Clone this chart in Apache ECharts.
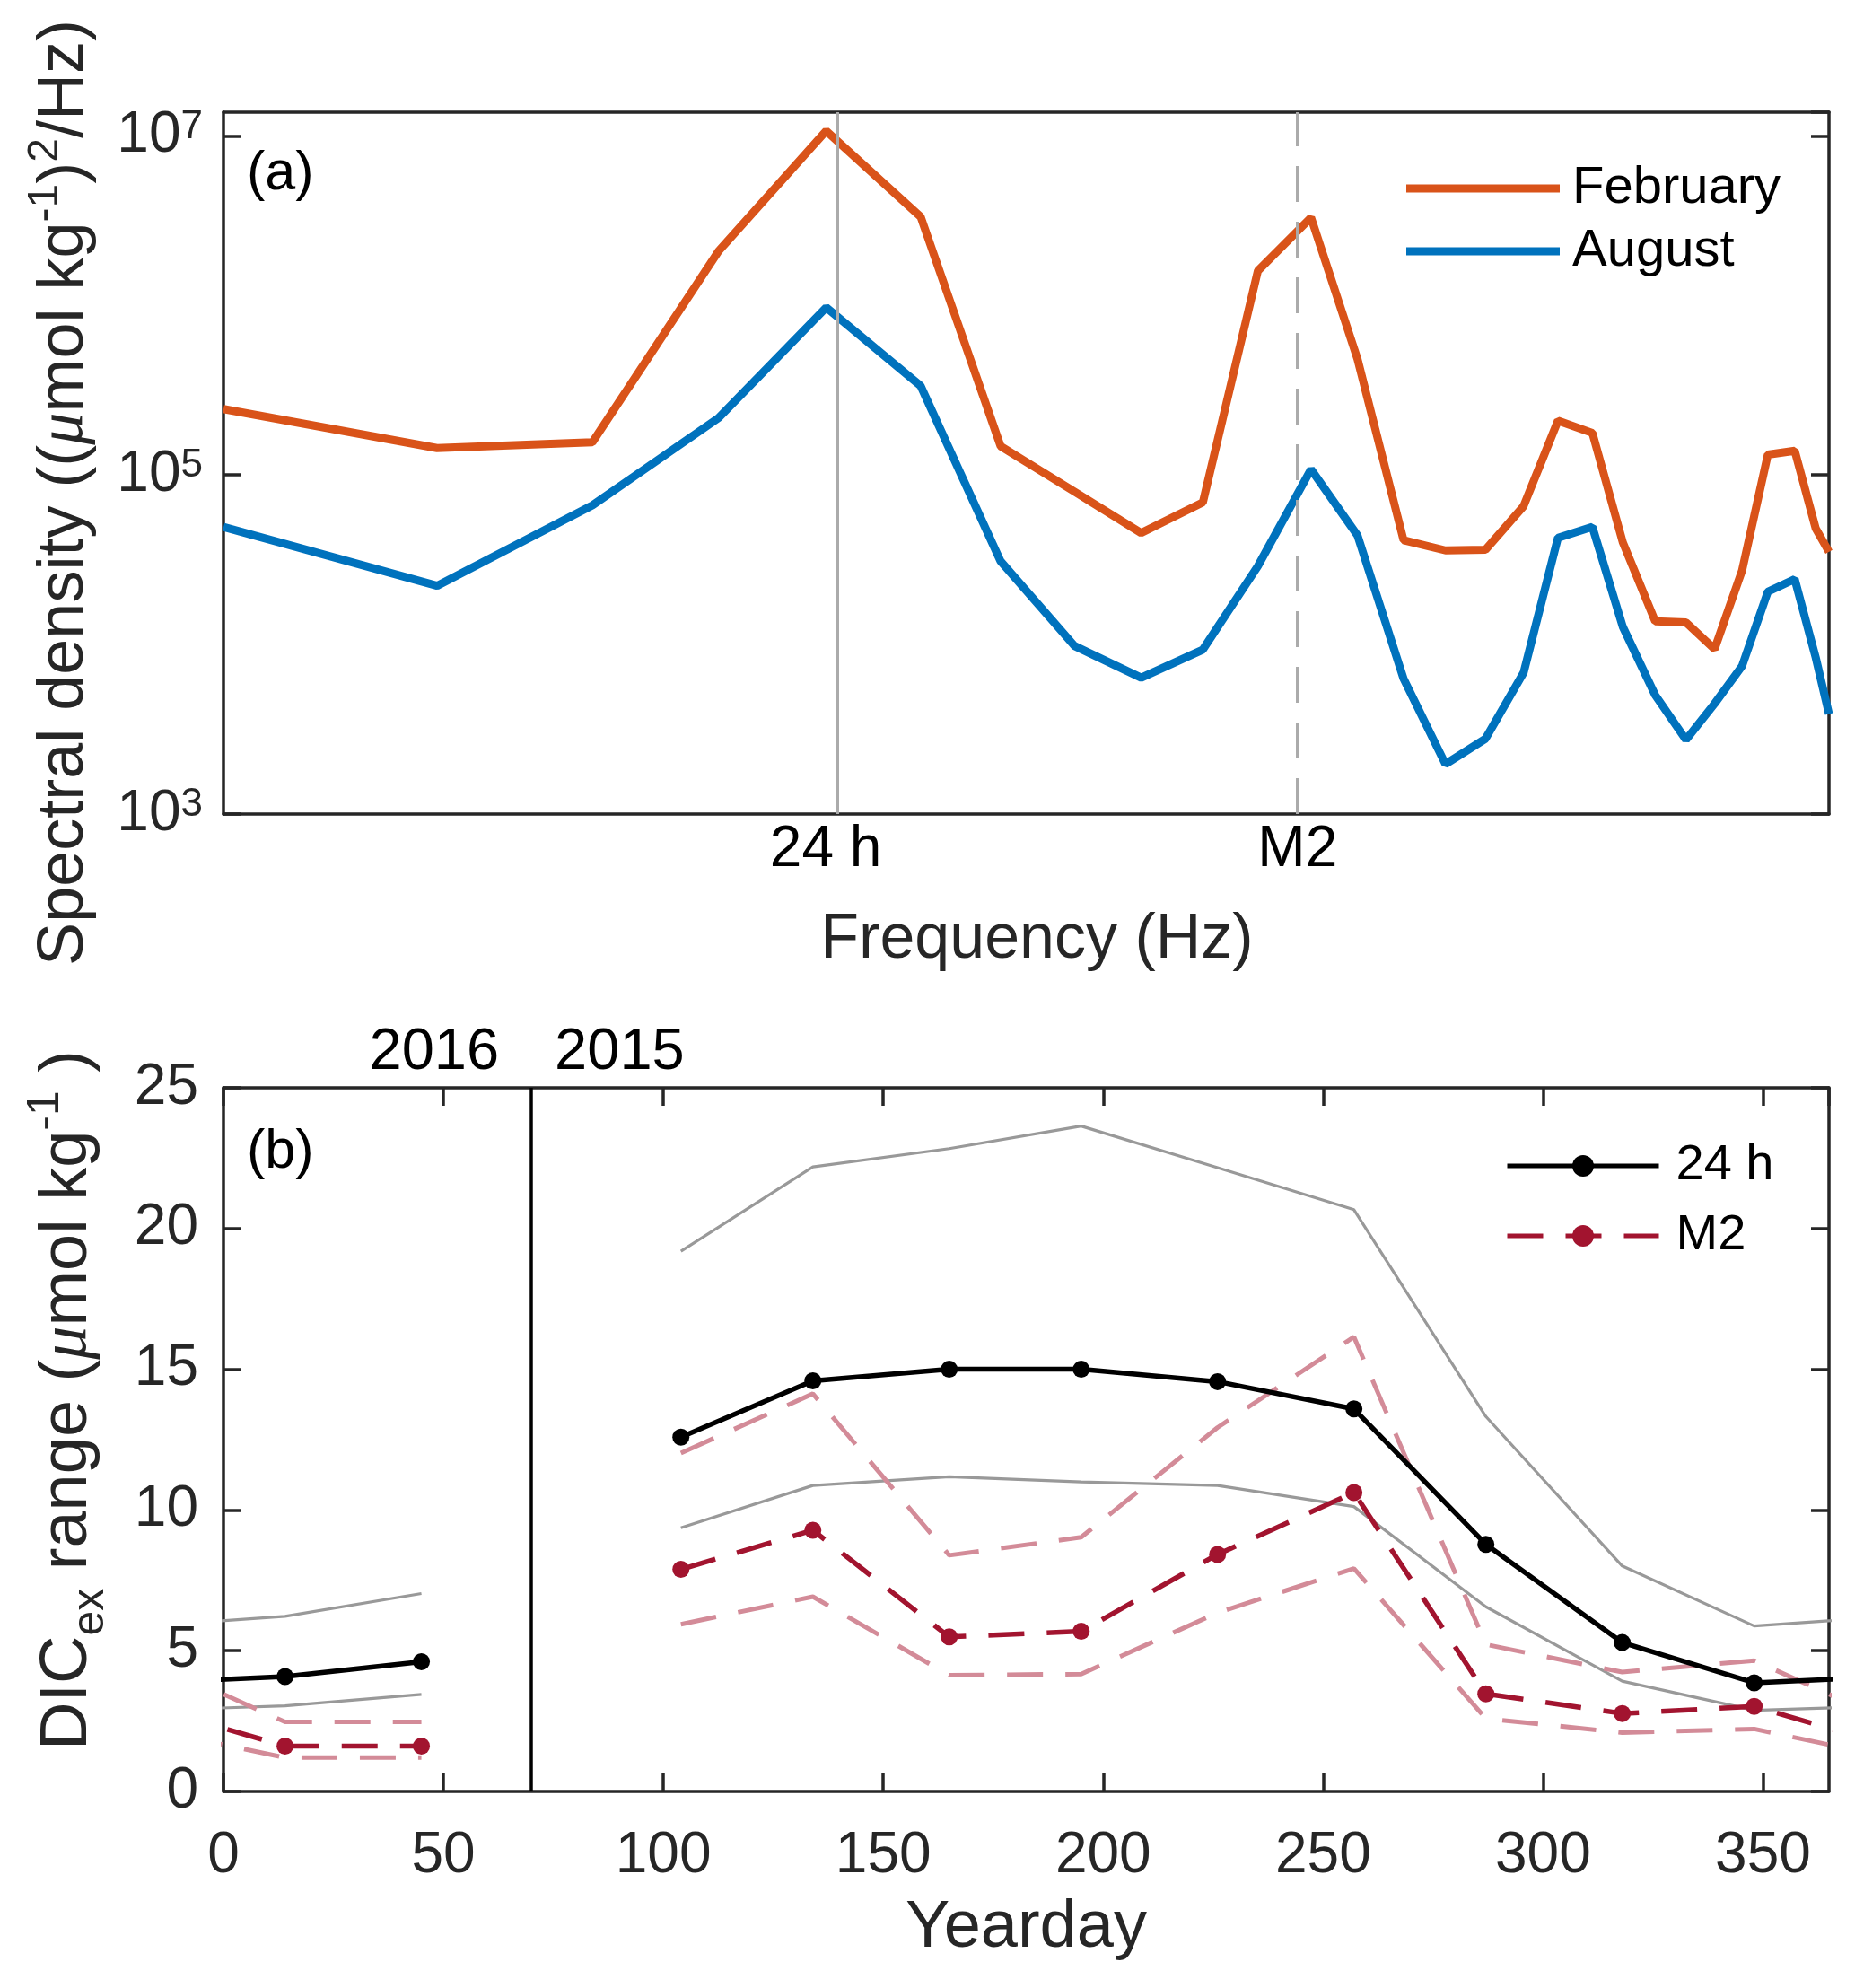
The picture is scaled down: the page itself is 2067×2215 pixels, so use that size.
<!DOCTYPE html>
<html><head><meta charset="utf-8">
<script src="https://cdn.jsdelivr.net/npm/echarts@6/dist/echarts.min.js"></script>
<style>html,body{margin:0;padding:0;background:#fff}#c{width:2067px;height:2215px}</style>
</head><body><div id="c"></div>
<script>
// ---------- Panel (a): spectra ----------
const freqHz = [4.806e-6, 6.525e-6, 8.150e-6, 9.764e-6, 1.139e-5, 1.304e-5, 1.462e-5, 1.625e-5, 1.788e-5, 1.953e-5,
  2.113e-5, 2.280e-5, 2.437e-5, 2.603e-5, 2.764e-5, 2.927e-5, 3.091e-5, 3.247e-5, 3.411e-5, 3.563e-5,
  3.732e-5, 3.900e-5, 4.063e-5, 4.226e-5, 4.385e-5, 4.557e-5, 4.696e-5, 4.786e-5];
const psdFebruary = [2.45e5, 1.44e5, 1.56e5, 2.09e6, 1.07e7, 3.33e6, 1.48e5, 7.98e4, 4.55e4, 6.89e4,
  1.60e6, 3.30e6, 4.82e5, 4.13e4, 3.59e4, 3.62e4, 6.55e4, 2.09e5, 1.77e5, 4.00e4,
  1.37e4, 1.35e4, 9.4e3, 2.73e4, 1.32e5, 1.39e5, 4.84e4, 3.52e4];
const psdAugust = [4.94e4, 2.22e4, 6.62e4, 2.17e5, 9.73e5, 3.35e5, 3.10e4, 9.82e3, 6.37e3, 9.33e3,
  2.90e4, 1.08e5, 4.40e4, 6.29e3, 1.97e3, 2.78e3, 6.81e3, 4.26e4, 4.94e4, 1.27e4,
  5.03e3, 2.74e3, 4.48e3, 7.46e3, 2.05e4, 2.43e4, 8.38e3, 3.89e3];
const freqRange = [4.806e-6, 4.786e-5];
const psdRange = [1e3, 1.38e7];
const psdTickExponents = [3, 5, 7];
const tideLines = [{name: '24 h', freq: 1 / 86400}, {name: 'M2', freq: 1 / (12.4206 * 3600)}];

// ---------- Panel (b): DICex range ----------
const yeardays = [104, 134, 165, 195, 226, 257, 287, 318, 348, 14, 45];
const years = [2015, 2015, 2015, 2015, 2015, 2015, 2015, 2015, 2015, 2016, 2016];
const range24h = [12.59, 14.59, 15.0, 15.0, 14.56, 13.59, 8.78, 5.29, 3.86, 4.08, 4.61];
const range24hUpper = [19.19, 22.19, 22.84, 23.64, 22.16, 20.67, 13.32, 8.01, 5.88, 6.22, 7.03];
const range24hLower = [9.37, 10.87, 11.18, 11.0, 10.87, 10.12, 6.56, 3.92, 2.88, 3.04, 3.45];
const rangeM2 = [7.89, 9.28, 5.49, 5.69, 8.42, 10.62, 3.47, 2.77, 3.02, 1.61, 1.61];
const rangeM2Upper = [12.02, 14.13, 8.39, 9.03, 12.93, 16.15, 5.22, 4.24, 4.65, 2.47, 2.47];
const rangeM2Lower = [5.94, 6.92, 4.13, 4.17, 6.35, 7.92, 2.59, 2.09, 2.22, 1.20, 1.20];
const yeardayTicks = [0, 50, 100, 150, 200, 250, 300, 350];
const yearBreakDay = 70;
const yearLabels = ['2016', '2015'];

const FONT = '"Liberation Sans", Arial, Helvetica, sans-serif';
const AX = '#262626';
const chart = echarts.init(document.getElementById('c'), null, {renderer: 'canvas'});

function pairs(vals, shift) {
  return yeardays.map((d, i) => [d + (years[i] - 2015) * 365 + shift, vals[i]]);
}
const axisLineStyle = {color: AX, width: 3.5};
function boxAxis(extra) {
  return Object.assign({
    axisLine: {show: true, onZero: false, lineStyle: axisLineStyle},
    axisTick: {show: true, inside: true, length: 20, lineStyle: axisLineStyle},
    splitLine: {show: false},
    axisLabel: {show: false}
  }, extra);
}
const supRich = {
  b: {fontSize: 64, fontFamily: FONT, color: AX},
  s: {fontSize: 44, fontFamily: FONT, color: AX, verticalAlign: 'top'}
};

const series = [];
// panel (a) reference lines at 24 h and M2
series.push({
  type: 'line', xAxisIndex: 0, yAxisIndex: 0, z: 1, silent: true, symbol: 'none',
  data: [[freqRange[0], psdRange[0]]], lineStyle: {width: 0},
  markLine: {
    symbol: ['none', 'none'], silent: true, animation: false,
    data: tideLines.map((t, i) => [
      {coord: [t.freq, psdRange[0]],
        lineStyle: {color: '#ABABAB', width: 4, type: i === 0 ? 'solid' : [40, 22]},
        label: {show: true, position: 'start', formatter: t.name, fontSize: 64, fontFamily: FONT,
          color: '#000', distance: 8, padding: i === 0 ? [0, 26, 0, 0] : 0}},
      {coord: [t.freq, psdRange[1]]}
    ])
  }
});
series.push({
  name: 'February', type: 'line', xAxisIndex: 0, yAxisIndex: 0, z: 3,
  data: freqHz.map((f, i) => [f, psdFebruary[i]]), symbol: 'none',
  lineStyle: {color: '#D95319', width: 9}, itemStyle: {color: '#D95319'}
});
series.push({
  name: 'August', type: 'line', xAxisIndex: 0, yAxisIndex: 0, z: 3,
  data: freqHz.map((f, i) => [f, psdAugust[i]]), symbol: 'none',
  lineStyle: {color: '#0072BD', width: 9}, itemStyle: {color: '#0072BD'}
});
// panel (b): year divider
series.push({
  type: 'line', xAxisIndex: 2, yAxisIndex: 2, data: [], z: 1, silent: true,
  markLine: {symbol: ['none', 'none'], silent: true, label: {show: false},
    data: [{xAxis: yearBreakDay, lineStyle: {color: '#000', width: 3.5, type: 'solid'}}]}
});
const DASH = [40, 25];
const bandDefs = [
  {name: '24 h upper', vals: range24hUpper, color: '#999999', width: 3.2, type: 'solid'},
  {name: '24 h lower', vals: range24hLower, color: '#999999', width: 3.2, type: 'solid'},
  {name: 'M2 upper', vals: rangeM2Upper, color: '#D38B98', width: 5, type: DASH},
  {name: 'M2 lower', vals: rangeM2Lower, color: '#D38B98', width: 5, type: DASH}
];
const mainDefs = [
  {name: 'M2', vals: rangeM2, color: '#A2142F', width: 5.5, type: DASH},
  {name: '24 h', vals: range24h, color: '#000000', width: 5.5, type: 'solid'}
];
[0, -365].forEach(shift => {
  bandDefs.forEach(d => series.push({
    name: d.name, type: 'line', xAxisIndex: 2, yAxisIndex: 2, z: 2, clip: true,
    data: pairs(d.vals, shift), symbol: 'none',
    lineStyle: {color: d.color, width: d.width, type: d.type}, itemStyle: {color: d.color}
  }));
});
[0, -365].forEach(shift => {
  mainDefs.forEach(d => series.push({
    name: d.name, type: 'line', xAxisIndex: 2, yAxisIndex: 2, z: 4, clip: true,
    data: pairs(d.vals, shift), symbol: 'circle', symbolSize: 19, showSymbol: true,
    lineStyle: {color: d.color, width: d.width, type: d.type}, itemStyle: {color: d.color}
  }));
});

const option = {
  animation: false,
  backgroundColor: '#fff',
  grid: [
    {left: 249, top: 125, width: 1789, height: 782},
    {left: 249, top: 1212, width: 1789, height: 784}
  ],
  xAxis: [
    boxAxis({type: 'log', logBase: 10, gridIndex: 0, min: freqRange[0], max: freqRange[1],
      axisTick: {show: false},
      name: 'Frequency (Hz)', nameLocation: 'middle', nameGap: 106,
      nameTextStyle: {fontSize: 70, color: AX, fontFamily: FONT, padding: [0, 0, 0, 24]}}),
    boxAxis({type: 'log', logBase: 10, gridIndex: 0, position: 'top', min: freqRange[0], max: freqRange[1],
      axisTick: {show: false}}),
    boxAxis({type: 'value', gridIndex: 1, min: 0, max: 365, interval: 50,
      axisLabel: {show: true, fontSize: 64, color: AX, fontFamily: FONT, margin: 40, showMaxLabel: false,
        formatter: v => yeardayTicks.indexOf(v) >= 0 ? String(v) : ''},
      name: 'Yearday', nameLocation: 'middle', nameGap: 116,
      nameTextStyle: {fontSize: 74, color: AX, fontFamily: FONT}}),
    boxAxis({type: 'value', gridIndex: 1, position: 'top', min: 0, max: 365, interval: 50})
  ],
  yAxis: [
    boxAxis({type: 'log', logBase: 10, gridIndex: 0, min: psdRange[0], max: psdRange[1], interval: 2,
      axisLabel: {show: true, margin: 23, rich: supRich, showMaxLabel: false,
        formatter: v => {
          const e = Math.log10(v), r = Math.round(e);
          return (Math.abs(e - r) < 1e-6 && psdTickExponents.indexOf(r) >= 0) ? '{b|10}{s|' + r + '}' : '';
        }}}),
    boxAxis({type: 'log', logBase: 10, gridIndex: 0, position: 'right', min: psdRange[0], max: psdRange[1], interval: 2}),
    boxAxis({type: 'value', gridIndex: 1, min: 0, max: 25, interval: 5,
      axisLabel: {show: true, fontSize: 64, color: AX, fontFamily: FONT, margin: 28}}),
    boxAxis({type: 'value', gridIndex: 1, position: 'right', min: 0, max: 25, interval: 5})
  ],
  legend: [
    {data: ['February', 'August'], icon: 'rect',
      orient: 'vertical', left: 1562, top: 175,
      itemWidth: 171, itemHeight: 9, itemGap: 10, selectedMode: false,
      textStyle: {fontSize: 58, color: '#000', fontFamily: FONT, lineHeight: 60, padding: [0, 0, 0, 9]}},
    {data: ['24 h', 'M2'], orient: 'vertical', left: 1672, top: 1264,
      itemWidth: 169, itemHeight: 30, itemGap: 18, selectedMode: false,
      lineStyle: {width: 5},
      textStyle: {fontSize: 56, color: '#000', fontFamily: FONT, lineHeight: 60, padding: [0, 0, 0, 14]}}
  ],
  series: series
};
chart.setOption(option);

const xBreak = chart.convertToPixel({xAxisIndex: 2}, yearBreakDay);
chart.setOption({
  graphic: [
    {type: 'text', x: 275, y: 194, style: {text: '(a)', fontSize: 61, fontFamily: FONT, fill: '#000', align: 'left', verticalAlign: 'middle'}},
    {type: 'text', x: 275, y: 1284, style: {text: '(b)', fontSize: 61, fontFamily: FONT, fill: '#000', align: 'left', verticalAlign: 'middle'}},
    {type: 'text', x: xBreak - 36, y: 1173, style: {text: yearLabels[0], fontSize: 65, fontFamily: FONT, fill: '#000', align: 'right', verticalAlign: 'middle'}},
    {type: 'text', x: xBreak + 26, y: 1173, style: {text: yearLabels[1], fontSize: 65, fontFamily: FONT, fill: '#000', align: 'left', verticalAlign: 'middle'}},
    {type: 'text', x: 72, y: 549, rotation: Math.PI / 2,
      style: {text: '{t|Spectral density ((}{mu|μ}{t|mol kg}{sup|-1}{t|)}{sup|2}{t|/Hz)}',
        align: 'center', verticalAlign: 'middle', fill: AX, fontSize: 72, fontFamily: FONT,
        rich: {
          t: {fontSize: 72, fontFamily: FONT, fill: AX, lineHeight: 90},
          mu: {fontSize: 72, fontFamily: '"Liberation Serif", serif', fontStyle: 'italic', fill: AX, lineHeight: 90},
          sup: {fontSize: 48, fontFamily: FONT, fill: AX, verticalAlign: 'top', lineHeight: 90}
        }}},
    {type: 'text', x: 76, y: 1560, rotation: Math.PI / 2,
      style: {text: '{t|DIC}{sub|ex}{t| range (}{mu|μ}{t|mol kg}{sup|-1}{t| )}',
        align: 'center', verticalAlign: 'middle', fill: AX, fontSize: 74, fontFamily: FONT,
        rich: {
          t: {fontSize: 74, fontFamily: FONT, fill: AX, lineHeight: 100},
          mu: {fontSize: 74, fontFamily: '"Liberation Serif", serif', fontStyle: 'italic', fill: AX, lineHeight: 100},
          sup: {fontSize: 50, fontFamily: FONT, fill: AX, verticalAlign: 'top', lineHeight: 100},
          sub: {fontSize: 50, fontFamily: FONT, fill: AX, verticalAlign: 'bottom', lineHeight: 100}
        }}}
  ]
});
</script></body></html>
